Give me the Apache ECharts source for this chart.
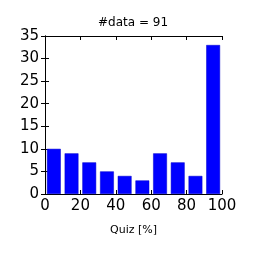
<!DOCTYPE html>
<html><head><meta charset="utf-8">
<script src="https://cdn.jsdelivr.net/npm/echarts@6/dist/echarts.min.js"></script>
<style>html,body{margin:0;padding:0;background:#fff}#c{width:256px;height:256px}</style>
</head><body><div id="c"></div>
<script>
const binLabels = ['0-10','10-20','20-30','30-40','40-50','50-60','60-70','70-80','80-90','90-100'];
const counts = [10, 9, 7, 5, 4, 3, 9, 7, 4, 33];
const titleText = '#data = ' + counts.reduce((a,b)=>a+b,0);
const xLabel = 'Quiz [%]';
const F = 'DejaVu Sans';
const chart = echarts.init(document.getElementById('c'), null, {renderer:'canvas'});
const gridPos = {left:45, right:34, top:36, bottom:62};
chart.setOption({
  animation:false,
  backgroundColor:'#fff',
  title:{text:titleText, left:133, top:17, textAlign:'center', padding:0,
    textStyle:{fontFamily:F, fontSize:12, fontWeight:'normal', color:'#000'}},
  grid:gridPos,
  xAxis:[
    {type:'category', data:binLabels, show:false, boundaryGap:true},
    {type:'value', min:0, max:100, interval:20, position:'bottom',
     name:xLabel, nameLocation:'middle', nameGap:31,
     nameTextStyle:{fontFamily:F, fontSize:11, color:'#000'},
     axisLine:{show:true, lineStyle:{color:'#000', width:1}},
     axisTick:{show:true, inside:true, length:4, lineStyle:{color:'#000'}},
     axisLabel:{fontFamily:F, fontSize:15, color:'#000', margin:5},
     splitLine:{show:false}},
    {type:'value', min:0, max:100, interval:20, position:'top',
     axisLine:{show:true, lineStyle:{color:'#000', width:1}},
     axisTick:{show:true, inside:true, length:4, lineStyle:{color:'#000'}},
     axisLabel:{show:false}, splitLine:{show:false}}
  ],
  yAxis:[
    {type:'value', min:0, max:35, interval:5, position:'left',
     axisLine:{show:true, lineStyle:{color:'#000', width:1}},
     axisTick:{show:true, inside:true, length:4, lineStyle:{color:'#000'}},
     axisLabel:{fontFamily:F, fontSize:15, color:'#000', margin:6},
     splitLine:{show:false}},
    {type:'value', min:0, max:35, interval:5, position:'right',
     axisLine:{show:true, lineStyle:{color:'#000', width:1}},
     axisTick:{show:true, inside:true, length:4, lineStyle:{color:'#000'}},
     axisLabel:{show:false}, splitLine:{show:false}}
  ],
  series:[{type:'bar', xAxisIndex:0, yAxisIndex:0, data:counts, barWidth:'78%',
    itemStyle:{color:'#0000ff', borderColor:'#0000cc', borderWidth:0.5}, z:1}]
});
</script></body></html>
